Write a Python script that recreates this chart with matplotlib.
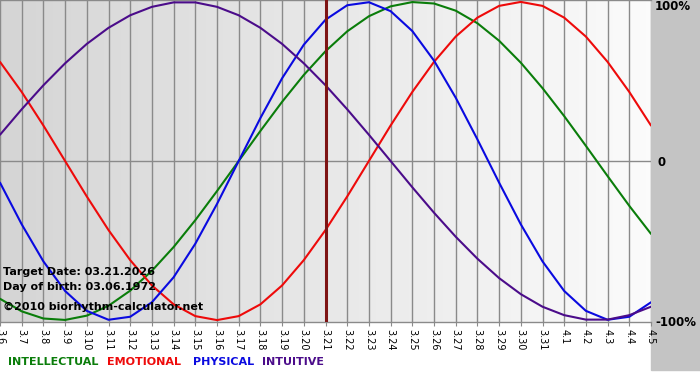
import matplotlib

matplotlib.use("Agg")
import matplotlib.pyplot as plt
import numpy as np

# days shown on the x axis (month.day)
dates = ["3.6", "3.7", "3.8", "3.9", "3.10", "3.11", "3.12", "3.13", "3.14", "3.15",
         "3.16", "3.17", "3.18", "3.19", "3.20", "3.21", "3.22", "3.23", "3.24", "3.25",
         "3.26", "3.27", "3.28", "3.29", "3.30", "3.31", "4.1", "4.2", "4.3", "4.4", "4.5"]
target_label = "3.21"

# cycle values, -1 .. 1
intellectual = [-0.866, -0.945, -0.990, -0.999, -0.972, -0.910, -0.815, -0.690, -0.541, -0.372,
                -0.189, 0.000, 0.189, 0.372, 0.541, 0.690, 0.815, 0.910, 0.972, 0.999,
                0.990, 0.945, 0.866, 0.756, 0.618, 0.458, 0.282, 0.095, -0.095, -0.282, -0.458]
emotional = [0.623, 0.434, 0.223, 0.000, -0.223, -0.434, -0.623, -0.782, -0.901, -0.975,
             -1.000, -0.975, -0.901, -0.782, -0.623, -0.434, -0.223, 0.000, 0.223, 0.434,
             0.623, 0.782, 0.901, 0.975, 1.000, 0.975, 0.901, 0.782, 0.623, 0.434, 0.223]
physical = [-0.136, -0.398, -0.631, -0.817, -0.942, -0.998, -0.979, -0.888, -0.731, -0.520,
            -0.270, 0.000, 0.270, 0.520, 0.731, 0.888, 0.979, 0.998, 0.942, 0.817,
            0.631, 0.398, 0.136, -0.136, -0.398, -0.631, -0.817, -0.942, -0.998, -0.979, -0.888]
intuitive = [0.165, 0.325, 0.476, 0.614, 0.736, 0.837, 0.916, 0.969, 0.997, 0.997,
             0.969, 0.916, 0.837, 0.736, 0.614, 0.476, 0.325, 0.165, 0.000, -0.165,
             -0.325, -0.476, -0.614, -0.736, -0.837, -0.916, -0.969, -0.997, -0.997, -0.969, -0.916]

series = [
    ("INTELLECTUAL", intellectual, "#0a7d0a"),
    ("EMOTIONAL", emotional, "#ee0a0a"),
    ("PHYSICAL", physical, "#0a0ae0"),
    ("INTUITIVE", intuitive, "#4b0c8a"),
]

W, H = 700, 380
PLOT_R, PLOT_T, PLOT_B, STRIP_B = 651, 0, 322, 370


def main() -> None:
    plt.rcParams["font.family"] = ["DejaVu Sans"]
    fig = plt.figure(figsize=(W / 100, H / 100), dpi=100)

    # background panels
    bg = fig.add_axes([0, 0, 1, 1], zorder=-5)
    bg.set_xlim(0, W)
    bg.set_ylim(H, 0)
    bg.axis("off")
    bg.add_patch(plt.Rectangle((0, 0), W, H, color="white"))
    bg.add_patch(plt.Rectangle((PLOT_R, 0), W - PLOT_R, STRIP_B, color="#c4c4c4"))
    ramp = np.linspace(1.0, 0.77, 256)
    strip = np.dstack([ramp, ramp, ramp])
    bg.imshow(strip, extent=(0, PLOT_R, STRIP_B, PLOT_B), aspect="auto")

    ax = fig.add_axes([0, 1 - PLOT_B / H, PLOT_R / W, (PLOT_B - PLOT_T) / H])
    x = np.arange(len(dates))
    ax.set_xlim(0, len(dates) - 1)
    ax.set_ylim(-1.012, 1.012)

    ramp2 = np.linspace(0.835, 0.985, 256)
    grad = np.dstack([ramp2, ramp2, ramp2])
    ax.imshow(grad, extent=(0, len(dates) - 1, -1.012, 1.012), aspect="auto", zorder=0)

    for xi in x:
        ax.axvline(xi, color="#8a8a8a", lw=1, zorder=1)
    ax.axhline(0, color="#8a8a8a", lw=1, zorder=1)

    for name, vals, color in series:
        ax.plot(x, vals, color=color, lw=1.5, zorder=3,
                solid_capstyle="round", solid_joinstyle="round")

    ax.axvline(dates.index(target_label), color="#7e1414", lw=2.2, zorder=4)

    for side in ["left", "right"]:
        ax.spines[side].set_visible(False)
    for side in ["top", "bottom"]:
        ax.spines[side].set_color("#8a8a8a")
        ax.spines[side].set_linewidth(1)
    ax.set_yticks([])
    ax.set_xticks(x)
    ax.set_xticklabels(dates, rotation=-90, fontsize=7, va="top", ha="center")
    ax.tick_params(axis="x", length=3, color="#8a8a8a", pad=2)

    def fx(px):
        return px / W

    def fy(py):
        return 1 - py / H

    info = [("Target Date: 03.21.2026", 272),
            ("Day of birth: 03.06.1972", 287),
            ("\u00a92010 biorhythm-calculator.net", 307)]
    for txt, py in info:
        fig.text(fx(3), fy(py), txt, fontsize=8, fontweight="bold", va="center", zorder=6)

    fig.text(fx(655), fy(7), "100%", fontsize=8.5, fontweight="bold", va="center")
    fig.text(fx(657), fy(162), "0", fontsize=8.5, fontweight="bold", va="center")
    fig.text(fx(655), fy(322), "-100%", fontsize=8.5, fontweight="bold", va="center")

    legend_x = [8, 107, 193, 262]
    for (name, vals, color), lx in zip(series, legend_x):
        fig.text(fx(lx), fy(362), name, color=color, fontsize=8, fontweight="bold", va="center")

    fig.savefig("out.png", dpi=100)
    plt.close(fig)


if __name__ == "__main__":
    main()
